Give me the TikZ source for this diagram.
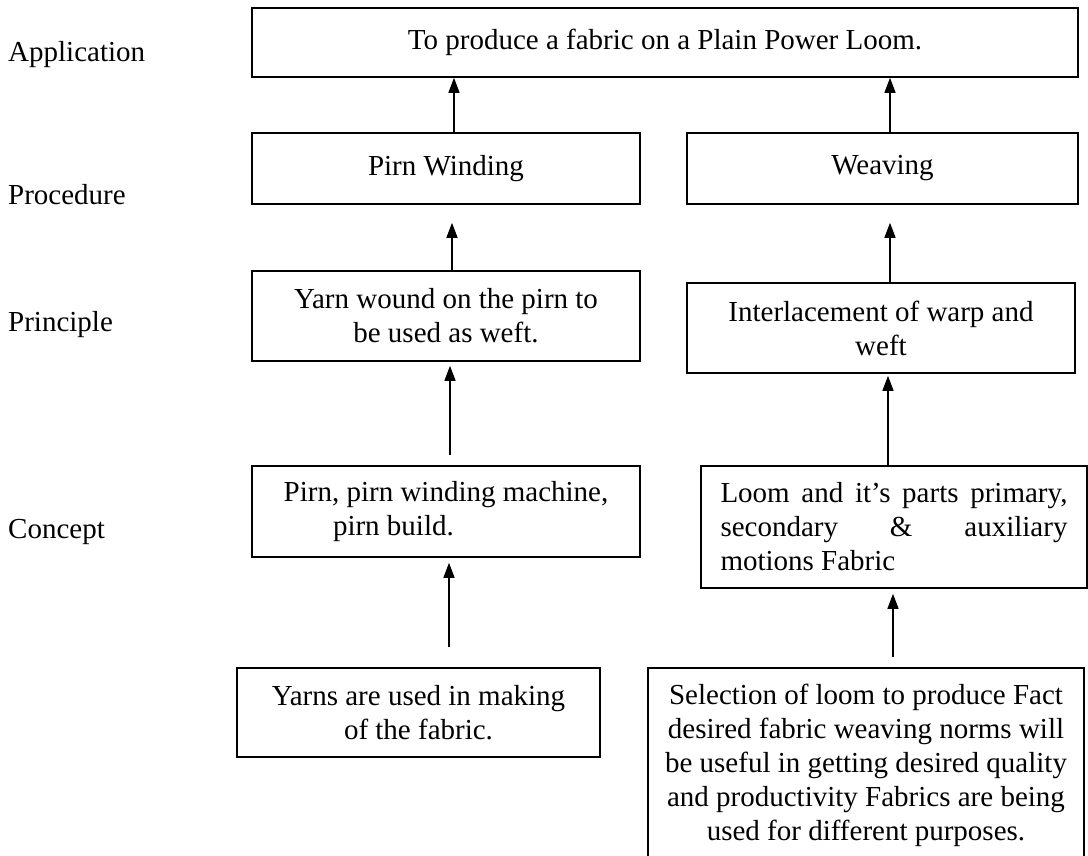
\documentclass[tikz,border=0pt]{standalone}
\usepackage{fontspec}
\setmainfont{Liberation Serif}
\usetikzlibrary{arrows.meta}
\begin{document}
\begin{tikzpicture}[x=1pt,y=-1pt,
  txt/.style={font=\fontsize{29}{34}\selectfont},
  box/.style={txt, draw, line width=1.6pt, inner sep=0pt, align=center},
  lvl/.style={txt, anchor=west, inner sep=0pt},
  up/.style={line width=1.4pt, -{Triangle[length=15pt,width=11pt]}}]
\useasboundingbox (0,0) rectangle (1088,856);
\clip (0,0) rectangle (1088,856);

% level names
\node[lvl] (lapp)  at (8,55)  {Application};
\node[lvl] (lproc) at (8,195) {Procedure};
\node[lvl] (lprin) at (8,325) {Principle};
\node[lvl] (lcon)  at (8,532) {Concept};

% application
\node[box, minimum width=826, minimum height=69] (app) at (665,42.5)
  {To produce a fabric on a Plain Power Loom.};

% procedure
\node[box, minimum width=388, minimum height=71] (pw) at (446,168.5) {Pirn Winding};
\node[box, minimum width=391, minimum height=71] (wv) at (882.5,168.5) {Weaving};

% principle
\node[box, minimum width=388, minimum height=90] (yw) at (446,316)
  {Yarn wound on the pirn to\\be used as weft.};
\node[box, minimum width=388, minimum height=90] (il) at (881,328)
  {Interlacement of warp and\\weft};

% concept
\node[box, minimum width=388, minimum height=91, align=left] (pc) at (446,511.5)
  {Pirn, pirn winding machine,\\\hspace*{1.7em}pirn build.};
\node[box, minimum width=386, minimum height=122, text width=347, align=justify] (lm) at (894,527)
  {Loom and it’s parts primary,\linebreak secondary \& auxiliary\linebreak motions Fabric};

% facts
\node[box, minimum width=363, minimum height=89] (yf) at (418.5,712.5)
  {Yarns are used in making\\of the fabric.};
\node[box, anchor=north, minimum width=436, inner ysep=16pt] (sf) at (866,667)
  {Selection of loom to produce Fact\\desired fabric weaving norms will\\be useful in getting desired quality\\and productivity Fabrics are being\\used for different purposes.};

% connectors
\draw[up] ([xshift=8pt]pw.north) -- ([xshift=8pt]pw.north |- app.south);
\draw[up] ([xshift=7.5pt]wv.north) -- ([xshift=7.5pt]wv.north |- app.south);
\draw[up] ([xshift=6pt]yw.north) -- ([xshift=6pt,yshift=-18pt]pw.south);
\draw[up] ([xshift=9pt]il.north) -- ([xshift=7.5pt,yshift=-18pt]wv.south);
\draw[up] ([xshift=4pt,yshift=10pt]pc.north) -- ([xshift=4pt,yshift=-4pt]yw.south);
\draw[up] ([xshift=-6pt]lm.north) -- ([xshift=7pt,yshift=-2pt]il.south);
\draw[up] ([xshift=30.5pt,yshift=20pt]yf.north) -- ([xshift=3pt,yshift=-5pt]pc.south);
\draw[up] ([xshift=27pt,yshift=10pt]sf.north) -- ([xshift=-1pt,yshift=-5pt]lm.south);
\end{tikzpicture}
\end{document}
